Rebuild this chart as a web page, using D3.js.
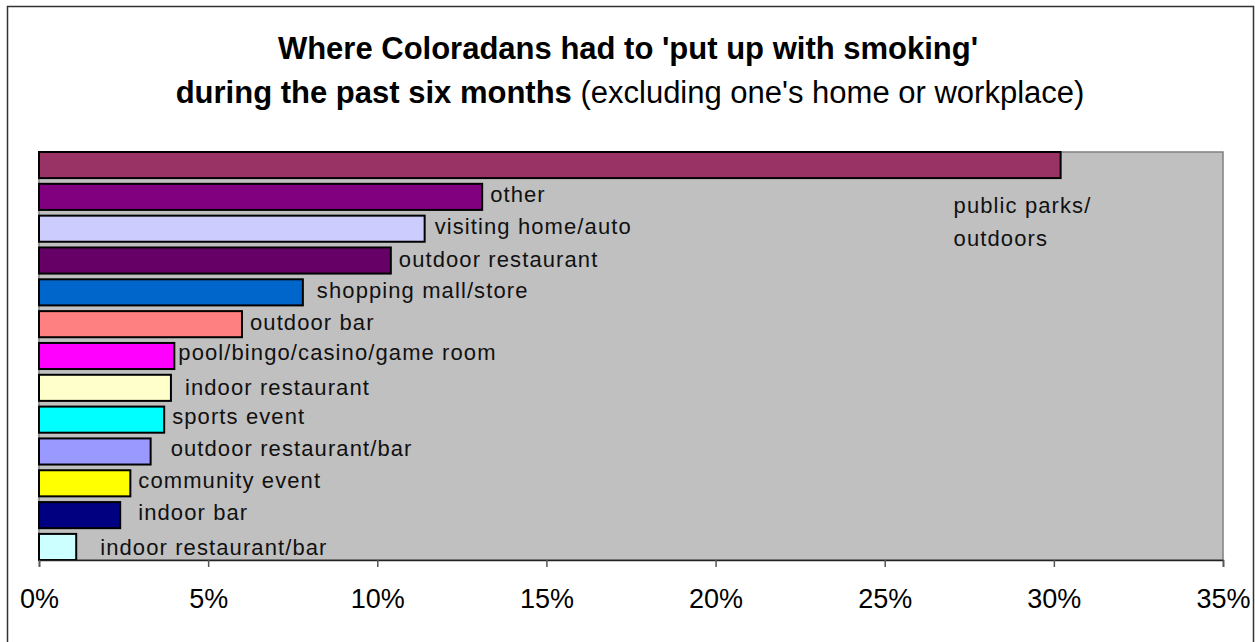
<!DOCTYPE html>
<html>
<head>
<meta charset="utf-8">
<script src="https://cdn.jsdelivr.net/npm/d3@7"></script>
<style>
  html, body { margin: 0; padding: 0; background: #fff; }
  svg { display: block; font-family: "Liberation Sans", Arial, sans-serif; }
</style>
</head>
<body>
<svg id="chart" width="1255" height="642"></svg>
<script>
// Places where smoking had to be tolerated (share of respondents, %)
const places = [
  "public parks/\noutdoors",
  "other",
  "visiting home/auto",
  "outdoor restaurant",
  "shopping mall/store",
  "outdoor bar",
  "pool/bingo/casino/game room",
  "indoor restaurant",
  "sports event",
  "outdoor restaurant/bar",
  "community event",
  "indoor bar",
  "indoor restaurant/bar"
];
const shares = [30.2, 13.1, 11.4, 10.4, 7.8, 6.0, 4.0, 3.9, 3.7, 3.3, 2.7, 2.4, 1.1];
const barColors = [
  "#993366", "#800080", "#CCCCFF", "#660066", "#0066CC", "#FF8080", "#FF00FF",
  "#FFFFCC", "#00FFFF", "#9999FF", "#FFFF00", "#000080", "#CCFFFF"
];
const tickValues = [0, 5, 10, 15, 20, 25, 30, 35];

// Label nudges (px) relative to the bar end and the bar's centre line
const labelDx = [-107, 8, 10, 8, 14, 8, 4, 14, 8, 20, 8, 18, 24];
const labelDy = [40, -3, -3, -2, -2, -2, -4, -1, -4, -3, -3, -3, 0];

const svg = d3.select("#chart");
const plot = { left: 39, right: 1223, top: 152, bottom: 560 };

// outer frame
svg.append("rect")
  .attr("x", 7.5).attr("y", 6.5)
  .attr("width", 1246).attr("height", 660)
  .attr("fill", "#fff").attr("stroke", "#333").attr("stroke-width", 1.5);

// title
const title = svg.append("text")
  .attr("text-anchor", "middle")
  .attr("font-size", 31)
  .attr("fill", "#000");
title.append("tspan").attr("x", 628).attr("y", 59)
  .attr("font-weight", "bold")
  .text("Where Coloradans had to 'put up with smoking'");
const l2 = title.append("tspan").attr("x", 630).attr("y", 103);
l2.append("tspan").attr("font-weight", "bold").text("during the past six months");
l2.append("tspan").attr("font-weight", "normal").text(" (excluding one's home or workplace)");

const x = d3.scaleLinear().domain([0, 35]).range([plot.left, plot.right]);
const y = d3.scaleBand().domain(places).range([plot.top, plot.bottom])
  .paddingInner(0.18).paddingOuter(0);

// plot background
svg.append("rect")
  .attr("x", plot.left).attr("y", plot.top)
  .attr("width", plot.right - plot.left).attr("height", plot.bottom - plot.top)
  .attr("fill", "#C0C0C0").attr("stroke", "#808080").attr("stroke-width", 1.5);

// bars
svg.append("g").selectAll("rect")
  .data(places)
  .join("rect")
  .attr("x", x(0))
  .attr("y", d => y(d))
  .attr("width", (d, i) => x(shares[i]) - x(0))
  .attr("height", y.bandwidth())
  .attr("fill", (d, i) => barColors[i])
  .attr("stroke", "#000")
  .attr("stroke-width", 2);

// category labels next to the bars
const labels = svg.append("g")
  .attr("font-size", 22)
  .attr("letter-spacing", 1.1)
  .attr("fill", "#111");
places.forEach((p, i) => {
  const lines = p.split("\n");
  const cx = x(shares[i]) + labelDx[i];
  const cy = y(p) + y.bandwidth() / 2 + labelDy[i];
  const t = labels.append("text")
    .attr("x", cx).attr("y", cy)
    .attr("dominant-baseline", "central");
  lines.forEach((ln, k) => {
    t.append("tspan").attr("x", cx).attr("dy", k === 0 ? 0 : 33).text(ln);
  });
});

// x axis
const axis = svg.append("g")
  .attr("transform", `translate(0,${plot.bottom})`)
  .call(d3.axisBottom(x).tickValues(tickValues).tickFormat(d => d + "%").tickSize(7).tickPadding(22));
axis.select(".domain").attr("stroke", "#222").attr("stroke-width", 1.5);
axis.selectAll(".tick line").attr("stroke", "#555").attr("stroke-width", 1.5);
axis.selectAll(".tick text")
  .attr("font-family", "Liberation Sans, Arial, sans-serif")
  .attr("font-size", 27).attr("fill", "#000");
</script>
</body>
</html>
